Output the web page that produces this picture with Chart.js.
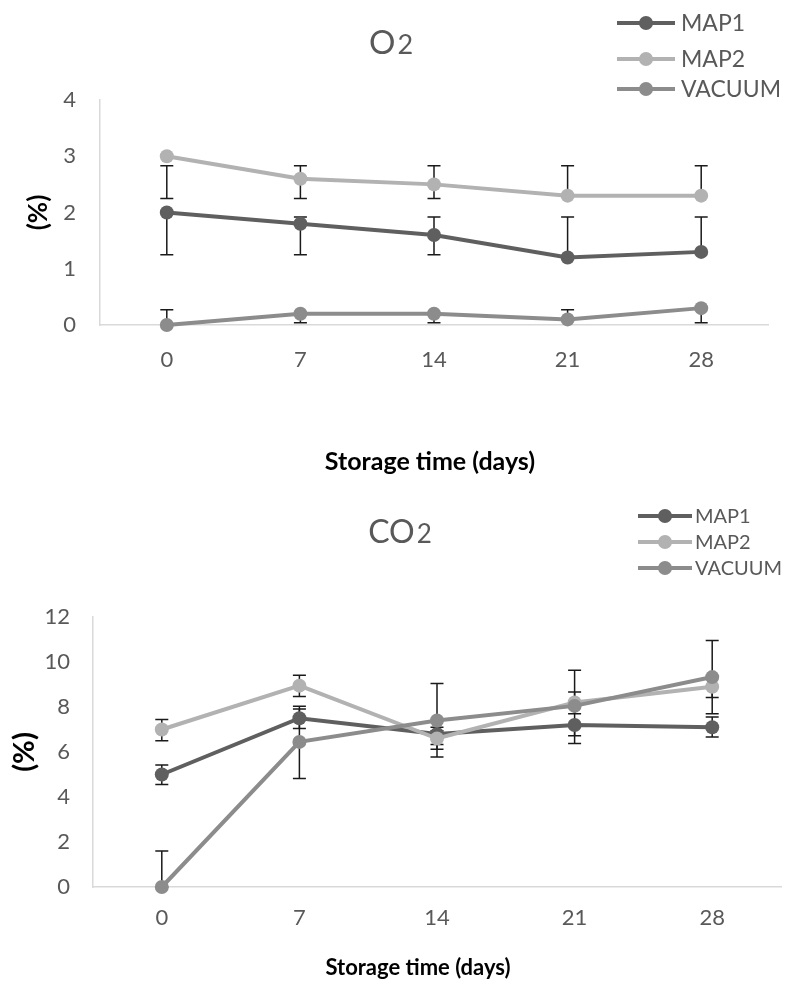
<!DOCTYPE html>
<html><head><meta charset="utf-8">
<script src="https://cdn.jsdelivr.net/npm/chart.js@4.4.0/dist/chart.umd.min.js"></script>
<style>
html,body{margin:0;padding:0;background:#fff;width:788px;height:988px;overflow:hidden;}
#c1{position:absolute;left:0;top:0;}
#c2{position:absolute;left:0;top:480px;}
</style>
</head><body>
<canvas id="c1" width="788" height="480"></canvas>
<canvas id="c2" width="788" height="508"></canvas>
<script>
// ---- data ----
const days = ['0', '7', '14', '21', '28'];
const seriesNames = ['MAP1', 'MAP2', 'VACUUM'];
const seriesColors = ['#5f5f5f', '#b2b2b2', '#8c8c8c'];

// O2 (%)
const o2Map1 = [2.0, 1.8, 1.6, 1.2, 1.3];
const o2Map2 = [3.0, 2.6, 2.5, 2.3, 2.3];
const o2Vacuum = [0.0, 0.2, 0.2, 0.1, 0.3];
const o2Map1Err = [[1.25, 2.0], [1.25, 1.92], [1.25, 1.92], [1.2, 1.92], [1.3, 1.92]];
const o2Map2Err = [[2.25, 2.83], [2.25, 2.83], [2.25, 2.83], [2.3, 2.83], [2.3, 2.83]];
const o2VacuumErr = [[0.0, 0.27], [0.04, 0.2], [0.04, 0.2], [0.1, 0.27], [0.04, 0.3]];
const o2Ticks = [0, 1, 2, 3, 4];

// CO2 (%)
const co2Map1 = [5.0, 7.5, 6.8, 7.2, 7.1];
const co2Map2 = [7.0, 8.95, 6.6, 8.2, 8.9];
const co2Vacuum = [0.0, 6.45, 7.4, 8.05, 9.33];
const co2Map1Err = [[4.56, 5.42], [7.04, 8.03], [6.12, 7.1], [6.38, 7.2], [6.67, 7.56]];
const co2Map2Err = [[6.5, 7.45], [8.47, 9.41], [5.78, 6.95], [6.72, 8.67], [8.42, 8.9]];
const co2VacuumErr = [[0.0, 1.6], [4.82, 7.91], [6.33, 9.04], [7.7, 9.63], [7.7, 10.96]];
const co2Ticks = [0, 2, 4, 6, 8, 10, 12];

const xAxisTitle = 'Storage time (days)';
const yAxisTitle = '(%)';

// ---- plugins ----
const errorBarPlugin = {
  id: 'errorBars',
  beforeDatasetsDraw(chart) {
    const ctx = chart.ctx, xs = chart.scales.x, ys = chart.scales.y;
    ctx.save();
    ctx.strokeStyle = '#1a1a1a';
    ctx.lineWidth = 1.5;
    chart.data.datasets.forEach(ds => {
      (ds.errorBars || []).forEach((e, i) => {
        const px = xs.getPixelForValue(i);
        const y1 = ys.getPixelForValue(e[0]);
        const y2 = ys.getPixelForValue(e[1]);
        ctx.beginPath();
        ctx.moveTo(px, y1); ctx.lineTo(px, y2);
        ctx.moveTo(px - 6.5, y1); ctx.lineTo(px + 6.5, y1);
        ctx.moveTo(px - 6.5, y2); ctx.lineTo(px + 6.5, y2);
        ctx.stroke();
      });
    });
    ctx.restore();
  }
};

const textPlugin = {
  id: 'texts',
  afterDraw(chart, args, o) {
    const ctx = chart.ctx, a = chart.chartArea;
    ctx.save();
    // title with subscript-like digit
    ctx.fillStyle = '#595959';
    ctx.textBaseline = 'alphabetic';
    ctx.textAlign = 'left';
    ctx.font = o.title.size + 'px Lato';
    const wm = ctx.measureText(o.title.main).width;
    ctx.font = o.title.subSize + 'px Lato';
    const ws = ctx.measureText(o.title.sub).width;
    const sx = o.title.cx - (wm + ws + 2) / 2;
    ctx.font = o.title.size + 'px Lato';
    ctx.fillText(o.title.main, sx, o.title.baseline);
    ctx.font = o.title.subSize + 'px Lato';
    ctx.fillText(o.title.sub, sx + wm + 2, o.title.baseline);

    // legend
    chart.data.datasets.forEach((ds, i) => {
      const y = o.legend.ys[i];
      ctx.strokeStyle = ds.borderColor;
      ctx.lineWidth = 4;
      ctx.beginPath();
      ctx.moveTo(o.legend.x1, y); ctx.lineTo(o.legend.x2, y);
      ctx.stroke();
      ctx.fillStyle = ds.backgroundColor;
      ctx.beginPath();
      ctx.arc((o.legend.x1 + o.legend.x2) / 2, y, 7, 0, Math.PI * 2);
      ctx.fill();
      ctx.fillStyle = '#595959';
      ctx.font = o.legend.size + 'px Lato';
      ctx.textBaseline = 'middle';
      ctx.fillText(ds.label, o.legend.textX, y + 1);
    });

    // y axis title
    ctx.fillStyle = '#000';
    ctx.font = 'bold ' + o.yTitle.size + 'px Lato';
    ctx.textAlign = 'center';
    ctx.textBaseline = 'middle';
    ctx.save();
    ctx.translate(o.yTitle.x, (a.top + a.bottom) / 2);
    ctx.rotate(-Math.PI / 2);
    ctx.fillText(yAxisTitle, 0, 0);
    ctx.restore();

    // x axis title
    ctx.font = 'bold ' + o.xTitle.size + 'px Lato';
    ctx.fillText(xAxisTitle, o.xTitle.cx, o.xTitle.y);
    ctx.restore();
  }
};

function makeDatasets(vals, errs) {
  return seriesNames.map((n, i) => ({
    label: n,
    data: vals[i],
    errorBars: errs[i],
    borderColor: seriesColors[i],
    backgroundColor: seriesColors[i],
    pointBackgroundColor: seriesColors[i],
    pointBorderWidth: 0,
    pointRadius: 7,
    borderWidth: 4,
    tension: 0,
    clip: false,
    order: 3 - i
  }));
}

function makeChart(id, vals, errs, ticks, lay, texts) {
  return new Chart(document.getElementById(id), {
    type: 'line',
    data: { labels: days, datasets: makeDatasets(vals, errs) },
    plugins: [errorBarPlugin, textPlugin],
    options: {
      responsive: false,
      animation: false,
      devicePixelRatio: 1,
      layout: { padding: lay.padding },
      plugins: { legend: { display: false }, tooltip: { enabled: false }, texts: texts },
      scales: {
        x: {
          type: 'category', offset: true,
          grid: { display: false, drawTicks: false },
          border: { display: true, color: '#d9d9d9', width: 1.5 },
          ticks: { color: '#595959', font: { family: 'Lato', size: 22 }, padding: lay.xPad, maxRotation: 0, autoSkip: false },
          afterFit: s => { s.height = lay.xHeight; }
        },
        y: {
          min: ticks[0], max: ticks[ticks.length - 1],
          grid: { display: false, drawTicks: false },
          border: { display: true, color: '#d9d9d9', width: 1.5 },
          ticks: { stepSize: ticks[1] - ticks[0], color: '#595959', font: { family: 'Lato', size: 22 }, padding: lay.yPad },
          afterFit: s => { s.width = lay.yWidth; }
        }
      }
    }
  });
}

function draw() {
  makeChart('c1', [o2Map1, o2Map2, o2Vacuum], [o2Map1Err, o2Map2Err, o2VacuumErr], o2Ticks,
    { padding: { top: 100, right: 20, bottom: 0, left: 0 }, xHeight: 155, yWidth: 100, xPad: 22, yPad: 24 },
    {
      title: { main: 'O', sub: '2', cx: 391, baseline: 54, size: 33, subSize: 27 },
      legend: { x1: 617, x2: 675, textX: 681, ys: [23, 59, 89], size: 23 },
      yTitle: { x: 39, size: 26 },
      xTitle: { cx: 430, y: 462, size: 25 }
    });
  makeChart('c2', [co2Map1, co2Map2, co2Vacuum], [co2Map1Err, co2Map2Err, co2VacuumErr], co2Ticks,
    { padding: { top: 137, right: 0, bottom: 0, left: 0 }, xHeight: 101, yWidth: 93, xPad: 18, yPad: 23 },
    {
      title: { main: 'CO', sub: '2', cx: 400, baseline: 63, size: 32, subSize: 26 },
      legend: { x1: 638, x2: 692, textX: 695, ys: [36, 62, 88], size: 20 },
      yTitle: { x: 25, size: 29 },
      xTitle: { cx: 418, y: 488, size: 22 }
    });
}
if (document.fonts && document.fonts.load) {
  Promise.all([document.fonts.load('20px Lato'), document.fonts.load('bold 20px Lato')]).then(draw, draw);
} else { draw(); }
</script>
</body></html>
